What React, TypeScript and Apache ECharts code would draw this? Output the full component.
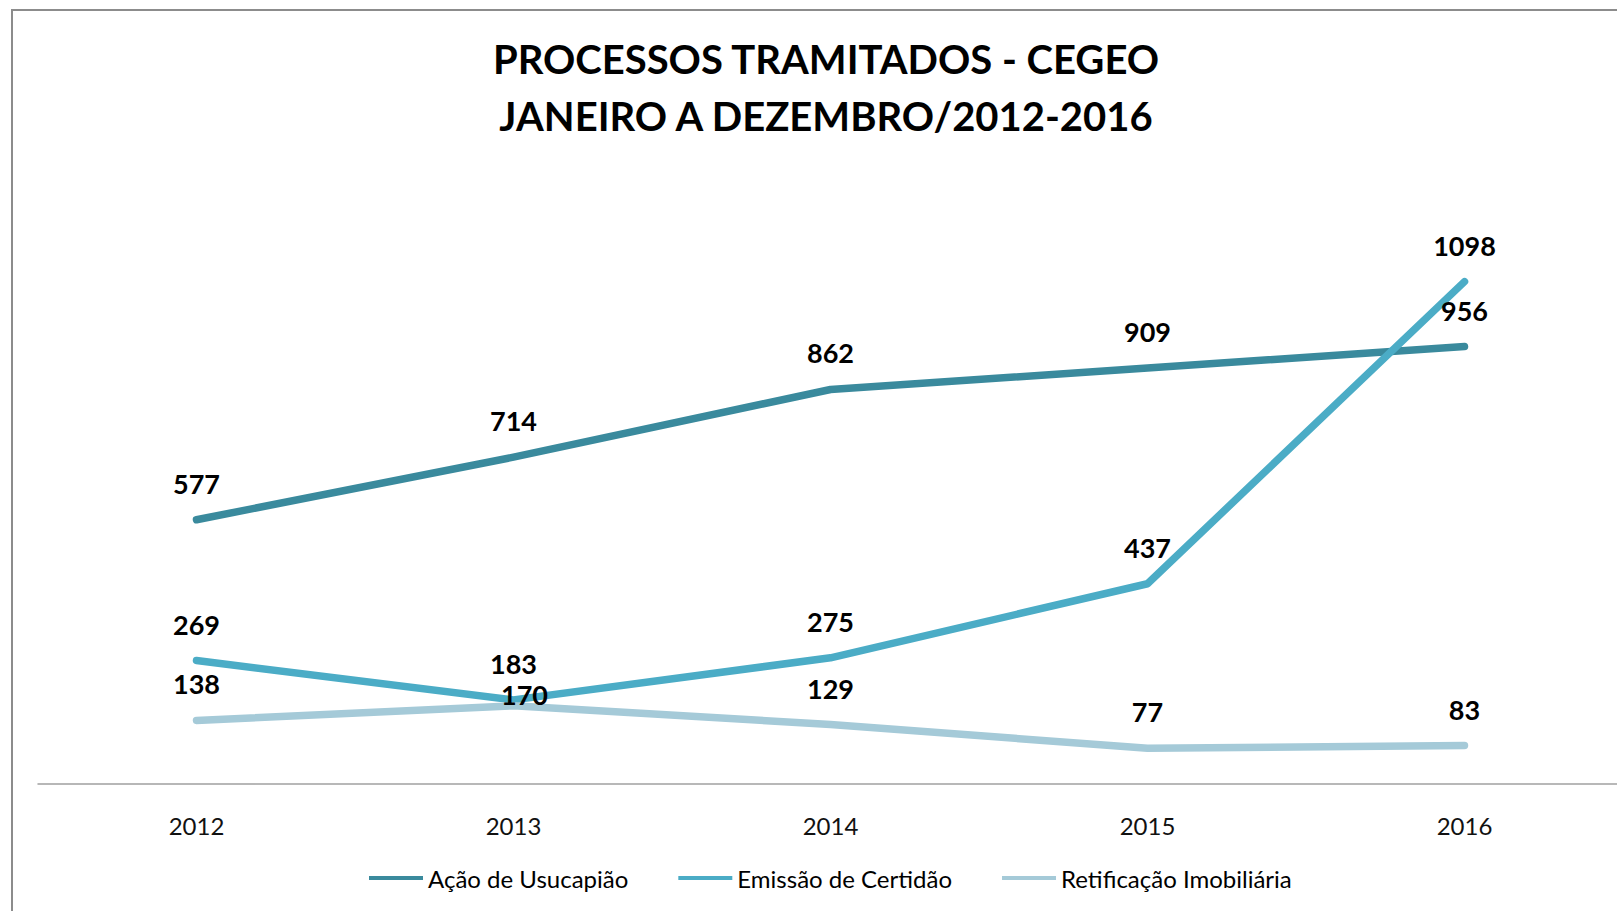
import React, { useEffect, useRef } from "react";
import * as echarts from "echarts";

const years = ["2012", "2013", "2014", "2015", "2016"];
const acaoUsucapiao = [577, 714, 862, 909, 956];
const emissaoCertidao = [269, 183, 275, 437, 1098];
const retificacao = [138, 170, 129, 77, 83];
const seriesNames = ["Ação de Usucapião", "Emissão de Certidão", "Retificação Imobiliária"];
const titleText = "PROCESSOS TRAMITADOS - CEGEO\nJANEIRO A DEZEMBRO/2012-2016";

const colors = ["#3A8A9D", "#4BACC6", "#A5CAD8"];

export default function App() {
  const ref = useRef<HTMLDivElement>(null);
  useEffect(() => {
    document.body.style.margin = "0";
    document.body.style.overflow = "hidden";
    if (!ref.current) return;
    const chart = echarts.init(ref.current, undefined, { renderer: "svg" });
    const labelBase = {
      show: true,
      position: "top" as const,
      distance: 23,
      fontFamily: "Lato",
      fontWeight: "bold" as const,
      fontSize: 27,
      color: "#000",
    };
    const mk = (name: string, data: number[], color: string, layout?: any) => ({
      name,
      type: "line",
      data,
      showSymbol: true,
      symbol: "circle",
      symbolSize: 0,
      lineStyle: { width: 7.5, color, cap: "round", join: "round" },
      itemStyle: { color },
      label: labelBase,
      labelLayout: layout || { hideOverlap: false },
      z: 2,
    });
    chart.setOption({
      animation: false,
      color: colors,
      title: {
        text: titleText,
        left: 826,
        textAlign: "center",
        top: 30,
        padding: 0,
        textStyle: {
          fontFamily: "Lato",
          fontWeight: "bold",
          fontSize: 40,
          lineHeight: 57,
          color: "#000",
        },
      },
      legend: {
        left: 369,
        top: 866,
        padding: 0,
        itemWidth: 54,
        itemHeight: 4,
        itemGap: 50,
        icon: "rect",
        textStyle: { fontFamily: "Lato", fontSize: 24, color: "#000" },
        data: seriesNames,
      },
      grid: { left: 38, top: 235, width: 1585, height: 548.5, containLabel: false },
      xAxis: {
        type: "category",
        data: years,
        boundaryGap: true,
        axisLine: { show: true, lineStyle: { color: "#A0A0A0", width: 1.5 } },
        axisTick: { show: false },
        axisLabel: { margin: 30, fontFamily: "Lato", fontSize: 24, color: "#111" },
      },
      yAxis: {
        type: "value",
        min: 0,
        max: 1200,
        show: false,
        splitLine: { show: false },
      },
      graphic: [
        {
          type: "polyline",
          shape: { points: [[12, 911], [12, 10], [1640, 10]] },
          style: { stroke: "#8C8C8C", lineWidth: 2, fill: "none" },
          silent: true,
        },
      ],
      series: [
        mk(seriesNames[0], acaoUsucapiao, colors[0]),
        mk(seriesNames[1], emissaoCertidao, colors[1]),
        mk(seriesNames[2], retificacao, colors[2], (p: any) =>
          p.dataIndex === 1 ? { dx: 11, dy: 25, hideOverlap: false } : { hideOverlap: false }
        ),
      ],
    });
    return () => chart.dispose();
  }, []);
  return (
    <div style={{ width: "1617px", height: "911px", overflow: "hidden", position: "relative" }}>
      <div ref={ref} style={{ width: "1640px", height: "911px" }} />
    </div>
  );
}
